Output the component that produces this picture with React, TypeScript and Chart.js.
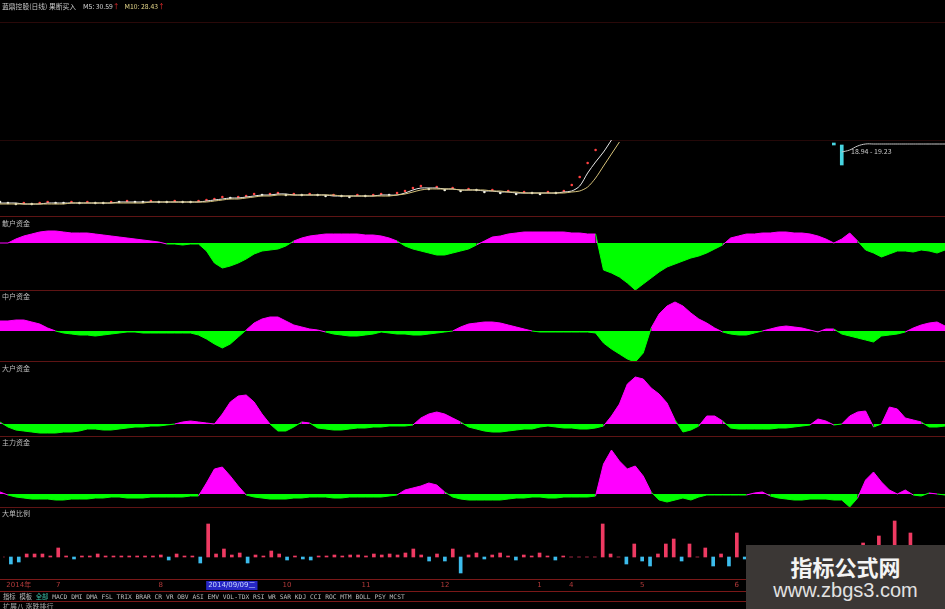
import React, { useEffect, useRef } from 'react';
import Chart from 'chart.js/auto';

// ---------- data ----------
const DAY_COUNT = 120;
const days: number[] = Array.from({ length: DAY_COUNT }, (_, i) => i);

// price panel (index units)
const ma5 = [
  12, 12, 12, 11, 11, 11, 12, 12, 12, 12,
  12, 12, 12, 12, 12, 13, 13, 13, 13, 13,
  13, 13, 13, 13, 13, 13, 14, 15, 16, 17,
  17, 18, 19, 20, 20, 21, 21, 20, 20, 20,
  20, 20, 19, 19, 19, 19, 19, 19, 20, 20,
  20, 22, 25, 27, 27, 27, 26, 26, 25, 25,
  25, 24, 24, 23, 23, 22, 22, 22, 22, 22,
  22, 23, 24, 29, 42, 53, 63, 75,
];
const ma10 = [
  11, 11, 11, 11, 11, 11, 11, 11, 11, 12,
  12, 12, 12, 12, 12, 12, 12, 12, 12, 13,
  13, 13, 13, 13, 13, 13, 13, 14, 15, 16,
  16, 17, 18, 19, 19, 20, 20, 20, 20, 20,
  20, 20, 20, 19, 19, 19, 19, 19, 19, 19,
  20, 21, 23, 25, 26, 26, 26, 26, 25, 25,
  25, 25, 24, 24, 23, 23, 22, 22, 22, 22,
  22, 22, 23, 24, 28, 37, 49, 61, 73,
];
const closes = [
  13, 12, 11, 12, 11, 12, 13, 12, 12, 13,
  12, 13, 12, 12, 13, 13, 14, 13, 13, 14,
  13, 13, 14, 13, 13, 14, 15, 16, 18, 17,
  18, 19, 21, 20, 21, 22, 20, 21, 20, 21,
  20, 19, 20, 19, 18, 20, 19, 20, 21, 20,
  22, 24, 27, 29, 26, 28, 25, 27, 24, 26,
  25, 23, 25, 22, 24, 21, 23, 22, 21, 23,
  22, 24, 30, 38, 52, 65,
];
const quoteDays = [106, 107, 108, 109, 110, 111, 112, 113, 114, 115, 116, 117, 118, 119];
const quoteLine = [63, 65, 69, 71, 71, 71, 71, 71, 71, 71, 71, 71, 71, 71];
const tickBarDays = [105, 106];
const tickBarLow = [70, 50];
const tickBarHigh = [72, 70];
const quoteRangeText = '18.94 - 19.23';

// fund panels
const retailFund = [
  0, 0, 4, 7, 9, 11, 12, 12, 11, 10,
  10, 10, 9, 8, 7, 6, 5, 4, 3, 2,
  1, -1, -1, -2, -1, -1, -8, -20, -25, -23,
  -20, -16, -11, -8, -7, -6, -3, 2, 5, 7,
  8, 9, 9, 9, 9, 9, 8, 8, 7, 5,
  2, -3, -6, -8, -10, -12, -12, -10, -8, -6,
  -2, 2, 6, 7, 9, 10, 11, 11, 11, 11,
  11, 11, 10, 10, 9, 9, -27, -30, -34, -40,
  -47, -41, -35, -29, -24, -21, -18, -15, -13, -10,
  -6, -2, 5, 7, 9, 9, 10, 10, 11, 11,
  10, 10, 9, 7, 4, 0, 4, 10, 2, -7,
  -10, -14, -11, -8, -8, -9, -7, -8, -10, -7,
];
const midFund = [
  10, 10, 11, 11, 9, 7, 3, 0, -2, -3,
  -4, -4, -5, -4, -3, -2, -1, -1, -2, -2,
  -2, -2, -2, -2, -2, -4, -8, -13, -17, -13,
  -6, 1, 8, 12, 14, 14, 10, 6, 4, 2,
  1, -1, -3, -4, -5, -5, -4, -3, -1, -2,
  -3, -3, -4, -4, -3, -2, -1, 0, 4, 7,
  8, 9, 9, 8, 6, 4, 2, 0, -1, -1,
  -1, -1, -1, -1, -1, -2, -12, -18, -23, -28,
  -31, -22, 3, 17, 25, 29, 25, 18, 12, 8,
  3, -1, -3, -4, -4, -2, 0, 2, 4, 5,
  4, 3, 1, -1, 2, 2, -3, -5, -7, -9,
  -11, -5, -4, -3, -1, 3, 6, 8, 9, 5,
];
const largeFund = [
  2, -3, -6, -7, -8, -9, -9, -9, -8, -8,
  -7, -5, -5, -6, -6, -5, -4, -3, -3, -2,
  -2, -1, 0, 2, 3, 2, 1, 0, 10, 22,
  28, 29, 22, 10, 0, -7, -7, -3, 2, 1,
  -4, -5, -6, -6, -5, -4, -4, -3, -3, -2,
  -2, -2, -1, 6, 10, 12, 10, 6, 2, -3,
  -5, -7, -8, -8, -7, -6, -5, -5, -3, -2,
  -3, -4, -4, -5, -5, -4, -2, 8, 20, 40,
  47, 45, 36, 30, 21, 4, -8, -6, -2, 8,
  8, 3, -4, -5, -5, -5, -5, -5, -4, -4,
  -3, -2, -1, 5, 3, -1, 0, 8, 12, 13,
  -3, 0, 17, 15, 6, 4, 2, -3, -3, -2,
];
const mainFund = [
  2, -1, -3, -4, -5, -5, -5, -6, -6, -5,
  -5, -5, -4, -4, -3, -3, -4, -4, -4, -3,
  -3, -3, -3, -3, -2, -2, 11, 25, 27, 18,
  8, -1, -3, -4, -5, -5, -5, -4, -4, -3,
  -3, -3, -4, -4, -3, -3, -3, -3, -3, -2,
  -1, 4, 6, 8, 11, 9, 2, -3, -5, -6,
  -6, -6, -6, -6, -5, -4, -4, -3, -3, -4,
  -4, -3, -3, -3, -3, -2, 30, 44, 33, 25,
  28, 18, 2, -6, -8, -6, -4, -6, -3, -1,
  -1, -1, -1, -1, -1, 1, 2, -2, -4, -5,
  -6, -6, -5, -5, -5, -6, -6, -13, -4, 14,
  22, 12, 4, 0, 4, -1, -2, 1, 0, -1,
];
const bigOrderRatio = [
  0, -7, -5, 3, 3, 3, 1, 9, 1, -2,
  1, 1, 3, 1, 1, 1, 1, 1, 1, 1,
  2, -3, 3, 1, 1, -6, 33, 3, 8, 2,
  4, -6, 2, 1, 6, 3, -3, 1, -2, -3,
  1, 1, 2, 1, 2, 2, 1, 3, 2, 3,
  2, 4, 8, 2, -4, 3, -4, 8, -16, 2,
  4, -2, 2, 4, 1, -3, 2, 1, 4, 1,
  -3, 1, 0, 0, 0, 0, 33, 3, 0, -7,
  13, -4, -9, 3, 13, 18, -4, 13, 0, 9,
  -9, 3, -9, 24, -2, 2, -3, 3, 1, -2,
  2, 4, -3, 3, 2, -2, 5, 8, 3, 14,
  4, 21, 3, 36, 2, 24, 3, -3, 2, 1,
];

const axisTickDays = [2, 7, 20, 29, 36, 46, 56, 68, 72, 81, 93];
const axisTickLabels = ['2014年', '7', '8', '2014/09/09二', '10', '11', '12', '1', '4', '5', '6'];
const highlightTickLabel = '2014/09/09二';

const panelTitles = ['散户资金', '中户资金', '大户资金', '主力资金', '大单比例'];
const toolbarLead = ['指标', '模板'];
const toolbarActive = '全部';
const toolbarItems = ['MACD', 'DMI', 'DMA', 'FSL', 'TRIX', 'BRAR', 'CR', 'VR', 'OBV', 'ASI', 'EMV', 'VOL-TDX', 'RSI', 'WR', 'SAR', 'KDJ', 'CCI', 'ROC', 'MTM', 'BOLL', 'PSY', 'MCST'];

// ---------- styles ----------
const MAGENTA = '#ff00ff';
const GREEN = '#00ff00';
const BAR_RED = '#ee3a62';
const BAR_BLUE = '#3cbcec';
const SEP = '#5e1414';
const SEP_BOTTOM = '#7a1818';
const W = 945;

function baseOptions(yMin: number, yMax: number): any {
  return {
    responsive: true,
    maintainAspectRatio: false,
    animation: false,
    events: [],
    layout: { padding: 0, autoPadding: false },
    plugins: { legend: { display: false }, tooltip: { enabled: false } },
    scales: {
      x: { type: 'category', display: false, offset: false },
      y: { display: false, min: yMin, max: yMax },
    },
  };
}

function fundConfig(values: number[], yMin: number, yMax: number): any {
  return {
    type: 'line',
    data: {
      labels: days,
      datasets: [
        {
          data: values,
          borderWidth: 1,
          borderColor: GREEN,
          pointRadius: 0,
          tension: 0,
          fill: { target: 'origin', above: MAGENTA, below: GREEN },
          segment: {
            borderColor: (c: any) => (c.p0.parsed.y + c.p1.parsed.y >= 0 ? MAGENTA : GREEN),
          },
        },
      ],
    },
    options: baseOptions(yMin, yMax),
  };
}

function priceConfig(): any {
  return {
    type: 'line',
    data: {
      labels: days,
      datasets: [
        { data: ma10, borderColor: '#d6c27a', borderWidth: 1, pointRadius: 0, tension: 0.3 },
        { data: ma5, borderColor: '#e8e8e8', borderWidth: 1, pointRadius: 0, tension: 0.3 },
        {
          data: closes,
          showLine: false,
          pointRadius: 1.3,
          pointBorderWidth: 0,
          pointBackgroundColor: (c: any) => {
            const i = c.dataIndex;
            return i > 0 && closes[i] > closes[i - 1] ? '#ff4040' : '#f0f0e0';
          },
        },
        {
          data: quoteDays.map((d, i) => ({ x: d, y: quoteLine[i] })),
          borderColor: '#c8c8c8',
          borderWidth: 1,
          pointRadius: 0,
          tension: 0.4,
        },
        {
          type: 'bar',
          data: tickBarDays.map((d, i) => ({ x: d, y: [tickBarLow[i], tickBarHigh[i]] })),
          backgroundColor: '#48d4e0',
          barThickness: 3,
          borderWidth: 0,
        },
      ],
    },
    options: baseOptions(0, 215),
  };
}

function barConfig(): any {
  const opts = baseOptions(-22, 49);
  const hiIdx = axisTickDays[axisTickLabels.indexOf(highlightTickLabel)];
  opts.scales.x = {
    type: 'category',
    display: true,
    offset: false,
    grid: { display: false, offset: false, drawTicks: false, tickLength: 0 },
    border: { display: false },
    afterFit: (scale: any) => {
      scale.height = 13;
    },
    ticks: {
      autoSkip: false,
      maxRotation: 0,
      minRotation: 0,
      padding: 3,
      font: { size: 7, family: 'DejaVu Sans, Noto Sans CJK SC', lineHeight: 1 },
      color: (c: any) => (c.index === hiIdx ? '#c8d6ff' : '#b23a3a'),
      showLabelBackdrop: (c: any) => c.index === hiIdx,
      backdropColor: '#2626c4',
      backdropPadding: { top: 1, bottom: 1, left: 2, right: 2 },
      callback: (_v: any, idx: number) => {
        const k = axisTickDays.indexOf(idx);
        return k >= 0 ? axisTickLabels[k] : '';
      },
    },
  };
  return {
    type: 'bar',
    data: {
      labels: days,
      datasets: [
        {
          data: bigOrderRatio,
          barThickness: 3,
          borderWidth: 0,
          backgroundColor: (c: any) => (c.raw >= 0 ? BAR_RED : BAR_BLUE),
        },
      ],
    },
    options: opts,
  };
}

function ChartBox({ top, height, build }: { top: number; height: number; build: () => any }) {
  const ref = useRef<HTMLCanvasElement | null>(null);
  useEffect(() => {
    if (!ref.current) return;
    const chart = new Chart(ref.current, build());
    return () => chart.destroy();
  }, []);
  return (
    <div style={{ position: 'absolute', left: 0, top, width: W, height }}>
      <canvas ref={ref} />
    </div>
  );
}

function HLine({ y, color }: { y: number; color: string }) {
  return <div style={{ position: 'absolute', left: 0, top: y, width: W, height: 1, background: color }} />;
}

const labelFont = '"Noto Sans CJK SC", "DejaVu Sans", sans-serif';

export default function App() {
  useEffect(() => {
    document.body.style.margin = '0';
    document.body.style.background = '#000';
  }, []);
  const titleTops = [219, 292, 364, 438, 509];
  return (
    <div
      style={{
        position: 'fixed',
        left: 0,
        top: 0,
        width: W,
        height: 609,
        background: '#000',
        overflow: 'hidden',
        fontFamily: labelFont,
      }}
    >
      <HLine y={22} color="#2a0909" />
      <HLine y={140} color="#240808" />
      <ChartBox top={0} height={215} build={priceConfig} />
      <ChartBox top={217} height={73} build={() => fundConfig(retailFund, -47, 26)} />
      <ChartBox top={291} height={71} build={() => fundConfig(midFund, -31, 40)} />
      <ChartBox top={362} height={74} build={() => fundConfig(largeFund, -12, 62)} />
      <ChartBox top={437} height={70} build={() => fundConfig(mainFund, -13, 57)} />
      <ChartBox top={508} height={84} build={barConfig} />

      <HLine y={216} color={SEP} />
      <HLine y={290} color={SEP} />
      <HLine y={361} color={SEP} />
      <HLine y={436} color={SEP} />
      <HLine y={507} color={SEP} />
      <HLine y={579} color={SEP_BOTTOM} />
      <HLine y={591} color={SEP_BOTTOM} />
      <HLine y={601} color={SEP_BOTTOM} />

      <div style={{ position: 'absolute', left: 2, top: 1, fontSize: 6.8, lineHeight: '10px', whiteSpace: 'nowrap' }}>
        <span style={{ color: '#c8c8c8' }}>蓝鼎控股(日线) 果断买入</span>
        <span style={{ color: '#d8d8d8', marginLeft: 7 }}>M5: 30.59</span>
        <span style={{ color: '#ff3030' }}>↑</span>
        <span style={{ color: '#e6d88a', marginLeft: 5 }}>M10: 28.43</span>
        <span style={{ color: '#ff3030' }}>↑</span>
      </div>

      {panelTitles.map((t, i) => (
        <div
          key={t}
          style={{ position: 'absolute', left: 2, top: titleTops[i], fontSize: 7, lineHeight: '9px', color: '#bcbcbc', whiteSpace: 'nowrap' }}
        >
          {t}
        </div>
      ))}

      <div style={{ position: 'absolute', left: 851, top: 147, fontSize: 7, lineHeight: '9px', color: '#c8c8c8', whiteSpace: 'nowrap' }}>
        {quoteRangeText}
      </div>

      <div
        style={{
          position: 'absolute',
          left: 3,
          top: 592,
          fontSize: 6.3,
          lineHeight: '9px',
          whiteSpace: 'pre',
          fontFamily: '"DejaVu Sans Mono", "Noto Sans CJK SC", monospace',
          color: '#bdbdbd',
        }}
      >
        <span>{toolbarLead.join(' ')} </span>
        <span style={{ color: '#3cc0a8' }}>{toolbarActive}</span>
        <span> {toolbarItems.join(' ')}</span>
      </div>
      <div style={{ position: 'absolute', left: 3, top: 602, fontSize: 7, lineHeight: '8px', color: '#a8a8a8', whiteSpace: 'nowrap' }}>
        扩展八 涨跌排行
      </div>

      <div
        style={{
          position: 'absolute',
          left: 746,
          top: 545,
          width: 199,
          height: 64,
          background: '#3b3735',
          textAlign: 'center',
        }}
      >
        <div style={{ marginTop: 8, fontSize: 22, lineHeight: '26px', fontWeight: 'bold', color: '#f4f4f4', fontFamily: labelFont }}>
          指标公式网
        </div>
        <div style={{ fontSize: 20, lineHeight: '22px', color: '#e2e2e2', fontFamily: '"Liberation Sans", Arial, sans-serif' }}>
          www.zbgs3.com
        </div>
      </div>
    </div>
  );
}
